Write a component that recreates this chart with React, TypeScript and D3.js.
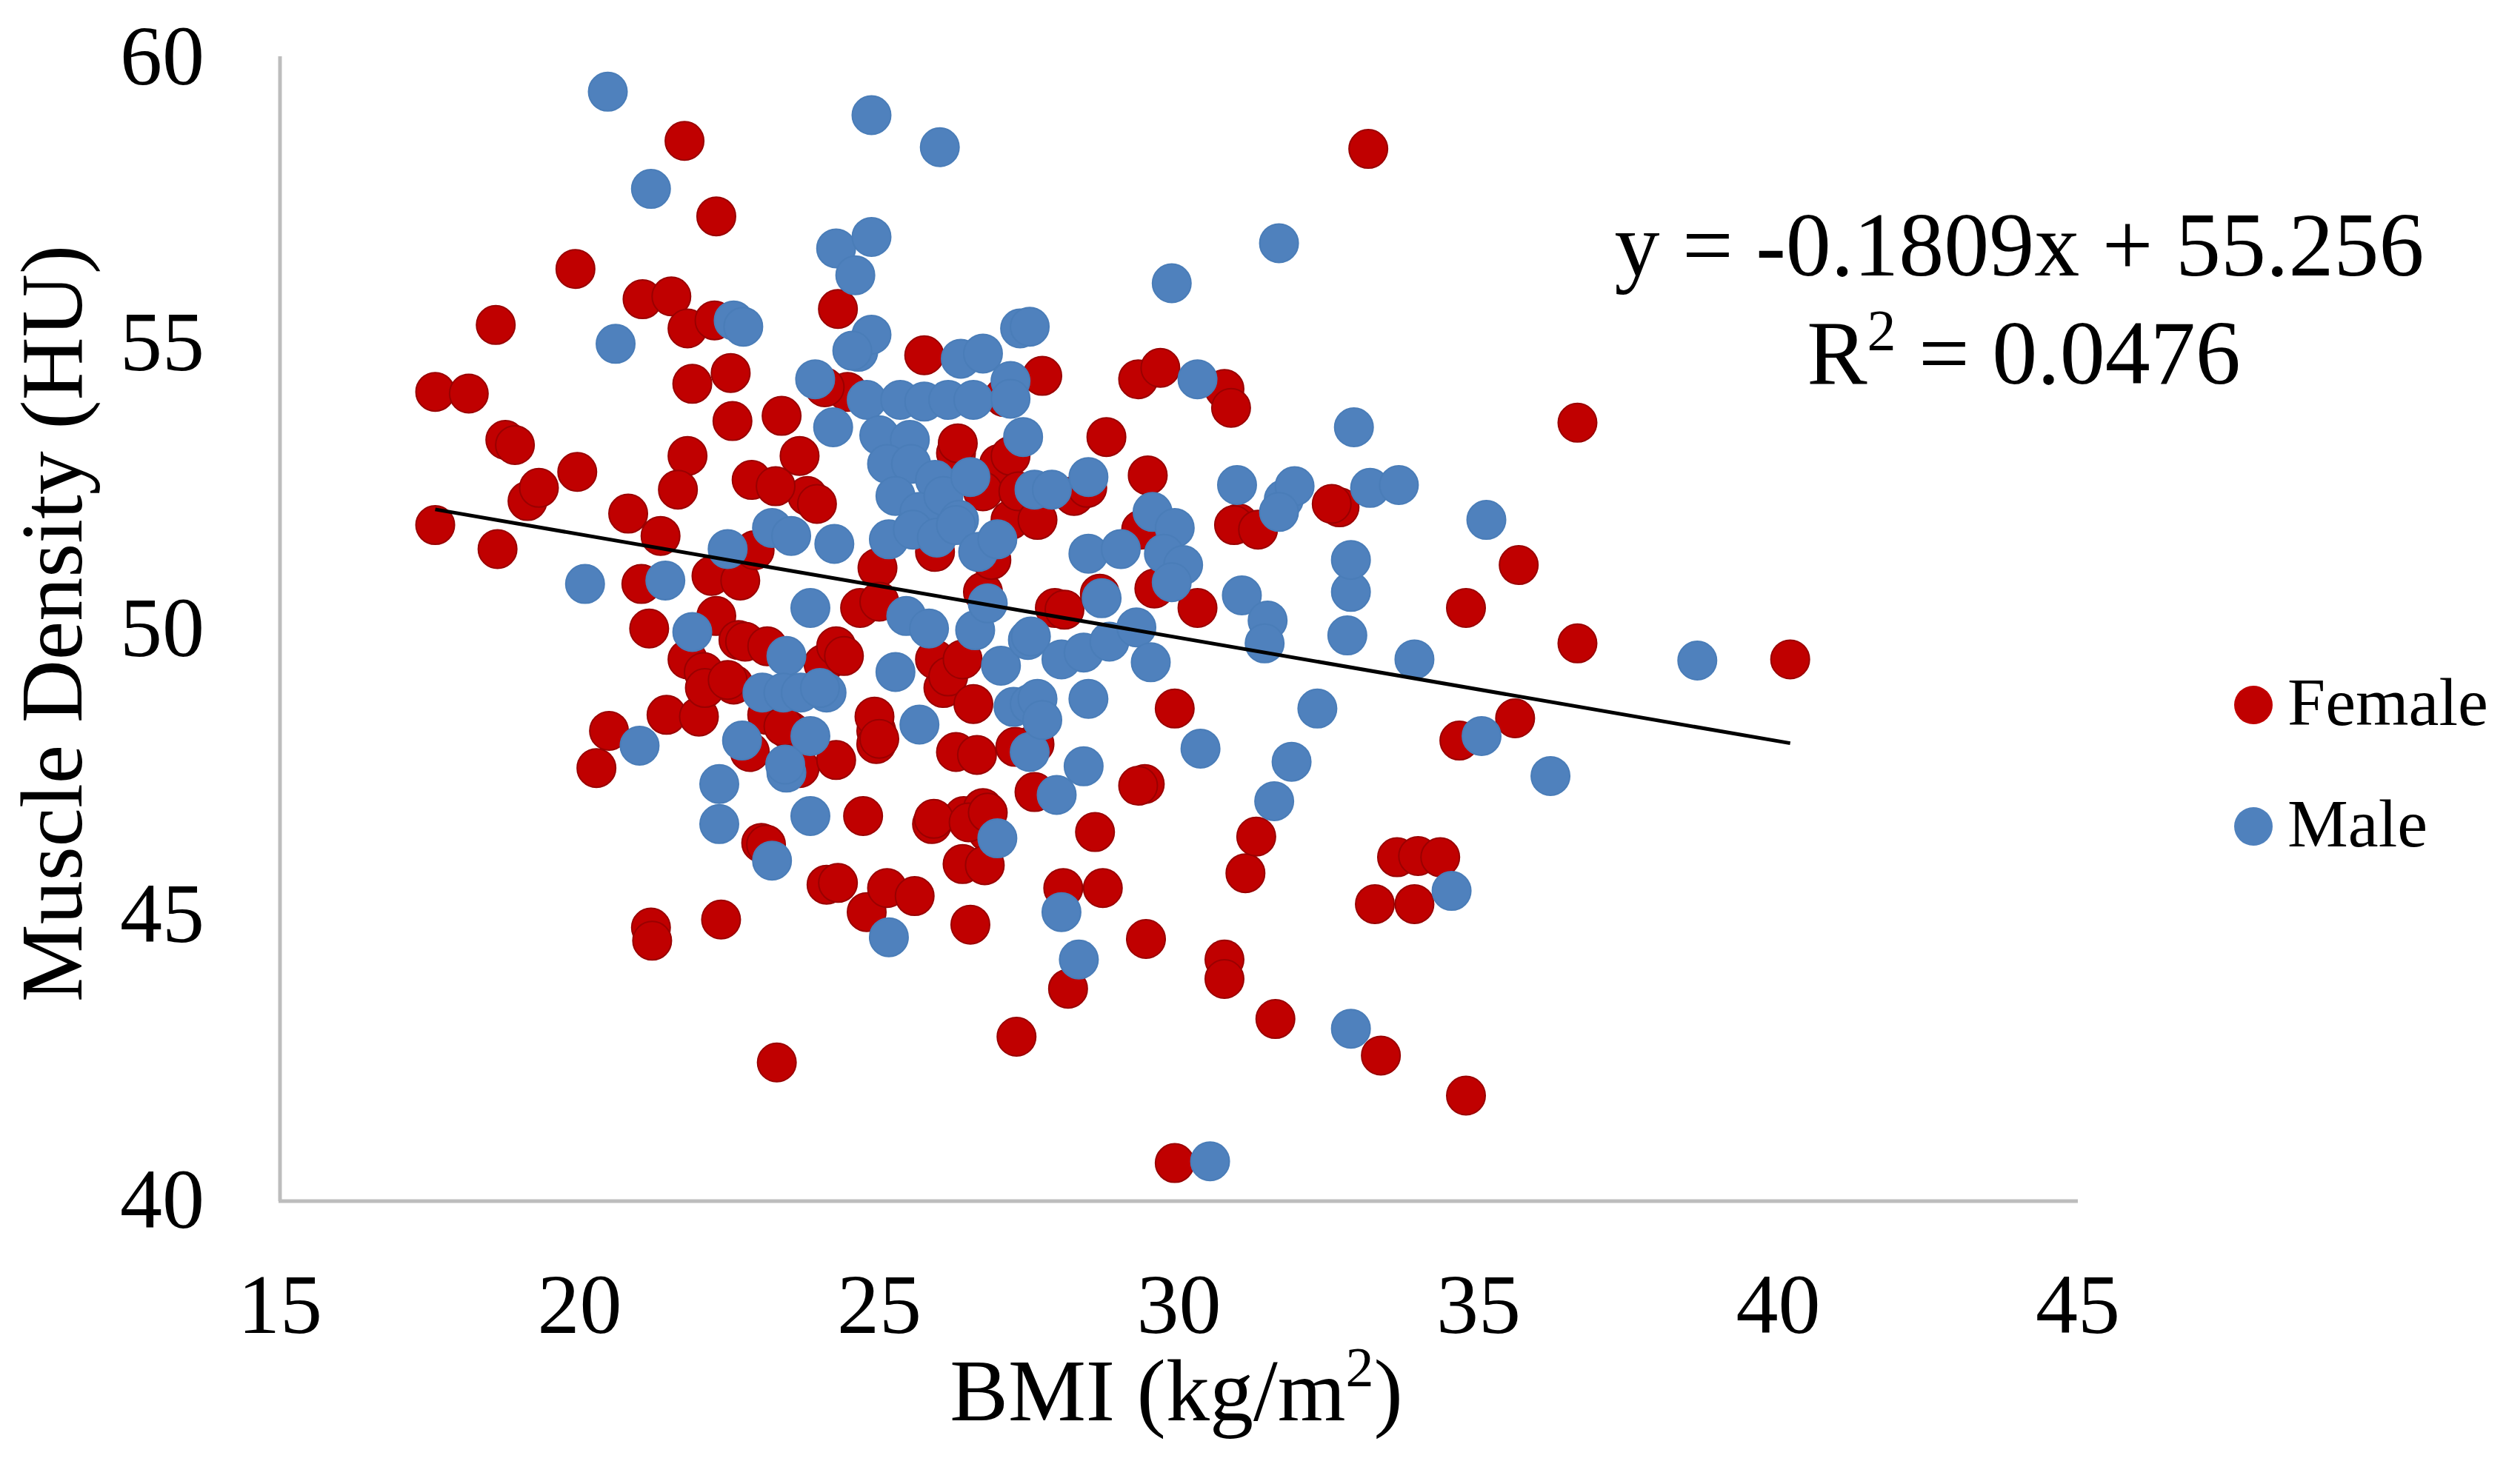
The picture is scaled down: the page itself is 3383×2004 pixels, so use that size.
import { useRef, useEffect } from "react";
import * as d3 from "d3";

// ── Data ───────────────────────────────────────────────────────────────────
const femaleBMI = [
  17.59, 18.15, 17.59, 18.6, 18.63, 18.76, 18.92, 19.13, 19.32, 19.96,
  19.93, 20.28, 20.49, 20.81, 21.03, 21.16, 21.05, 21.53, 21.75, 22.28,
  21.8, 22.25, 21.88, 21.8, 21.64, 21.35, 21.19, 21.21, 21.45, 21.8,
  22.07, 21.99, 22.2, 22.28, 22.55, 22.52, 22.65, 22.87, 22.68, 22.36,
  23.29, 23.03, 23.37, 23.13, 23.67, 23.8, 23.51, 23.67, 24.07, 24.12,
  24.31, 24.28, 24.47, 24.68, 24.73, 24.79, 24.95, 24.95, 25.13, 25.59,
  25.75, 25.88, 26.07, 26.39, 26.28, 26.28, 26.52, 26.41, 26.73, 26.81,
  26.73, 27.08, 27.0, 27.29, 27.19, 27.59, 27.59, 27.72, 28.07, 28.15,
  27.93, 28.25, 28.6, 28.73, 28.79, 29.32, 29.48, 29.43, 29.45, 29.69,
  29.59, 29.93, 29.93, 30.31, 30.76, 30.87, 30.76, 30.76, 31.0, 31.11,
  31.29, 31.61, 32.68, 33.16, 33.27, 33.37, 33.64, 33.93, 33.99, 34.36,
  34.79, 34.68, 34.79, 35.67, 35.61, 36.65, 36.65, 40.2,
  24.09, 26.31, 27.19, 23.27, 23.96, 26.73, 27.32, 22.92, 24.97, 25.93,
  26.87, 25.0, 22.76, 23.13, 24.28, 24.41, 25.93, 26.15, 26.39, 22.57,
  23.4, 26.57, 24.92, 25.0, 26.63, 27.27, 22.84, 25.91, 26.49, 26.81,
  23.11, 26.76, 24.31, 28.09, 28.68, 29.59, 29.32, 28.47, 27.64, 30.92,
  31.32, 29.37, 32.55, 22.09, 22.47,
];
const femaleHU = [
  54.13, 54.1, 51.8, 55.3, 51.38, 53.29, 53.2, 52.22, 52.45, 52.73,
  56.28, 47.55, 48.2, 52.0, 50.77, 49.99, 55.75, 55.8, 58.52, 57.2,
  55.24, 55.38, 54.27, 53.01, 52.42, 51.61, 44.76, 44.53, 48.48, 49.45,
  49.23, 48.45, 50.91, 50.21, 53.62, 54.46, 49.79, 52.59, 50.83, 44.9,
  42.4, 46.24, 53.71, 48.48, 53.01, 52.31, 48.2, 47.55, 49.37, 45.51,
  55.58, 47.69, 54.13, 50.35, 46.71, 45.03, 48.2, 47.97, 45.45, 45.31,
  54.77, 46.57, 48.95, 45.87, 47.83, 53.06, 44.81, 46.71, 46.85, 46.43,
  50.63, 54.04, 52.87, 42.85, 51.89, 47.97, 47.13, 54.41, 45.45, 43.69,
  50.35, 52.31, 46.43, 45.45, 53.34, 54.35, 52.67, 47.27, 44.56, 54.55,
  51.75, 40.64, 48.59, 50.35, 54.18, 53.85, 44.2, 43.86, 51.83, 45.71,
  46.35, 43.16, 52.11, 58.38, 45.17, 42.52, 45.99, 45.17, 46.01, 45.99,
  50.35, 48.03, 41.82, 51.1, 48.42, 53.59, 49.73, 49.45,
  54.21, 53.23, 53.01, 52.48, 52.17, 52.39, 52.39, 51.36, 51.05, 51.33,
  51.19, 50.46, 49.76, 49.68, 49.68, 49.51, 49.45, 49.15, 49.45, 49.01,
  48.28, 48.67, 48.45, 48.06, 47.78, 47.92, 47.83, 46.66, 46.6, 46.77,
  46.21, 45.85, 45.54, 50.32, 50.6, 50.69, 47.24, 52.45, 51.89, 51.8,
  51.72, 51.72, 52.17, 48.95, 49.09,
];

const maleBMI = [
  20.47, 21.19, 20.6, 20.09, 21.0, 21.43, 21.88, 22.33, 22.33, 22.47,
  22.57, 22.73, 22.71, 23.21, 23.21, 23.45, 23.45, 23.53, 23.85, 23.85,
  23.85, 23.93, 24.12, 24.23, 24.25, 24.28, 24.6, 24.87, 24.87, 24.65,
  24.87, 24.55, 24.79, 25.16, 25.27, 26.01, 25.67, 26.36, 26.73, 27.35,
  27.19, 25.35, 25.75, 26.15, 26.57, 27.19, 25.0, 25.51, 25.13, 25.53,
  25.93, 25.27, 25.67, 26.07, 26.33, 26.52, 27.4, 27.59, 25.16, 25.56,
  25.96, 26.28, 26.65, 26.97, 25.45, 25.83, 26.6, 26.81, 27.03, 27.48,
  23.05, 23.4, 23.69, 24.01, 27.24, 27.51, 27.51, 23.43, 26.97, 29.88,
  27.51, 30.31, 27.88, 28.49, 30.97, 31.75, 31.93, 29.56, 29.93, 29.75,
  30.07, 28.49, 29.03, 31.05, 28.71, 29.88, 31.48, 31.43, 27.53, 28.04,
  28.41, 28.84, 29.29, 29.53, 27.64, 28.49, 27.72, 32.31, 30.36, 28.41,
  27.96, 31.88, 31.59, 28.04, 28.33, 30.52, 32.87, 32.87, 32.87, 32.92,
  32.81, 33.19, 33.67, 33.93, 34.55, 35.05, 35.13, 36.2, 38.65, 31.67,
  31.67,
];
const maleHU = [
  59.38, 57.68, 54.97, 50.77, 47.94, 50.83, 49.93, 47.27, 46.57, 51.38,
  55.38, 55.27, 48.03, 45.93, 51.75, 49.51, 47.47, 51.61, 50.35, 48.11,
  46.71, 54.35, 48.87, 53.51, 51.47, 56.64, 56.17, 56.84, 58.97, 54.83,
  55.13, 54.85, 53.99, 44.59, 49.23, 58.41, 48.31, 54.71, 54.8, 55.24,
  54.32, 53.99, 53.96, 53.99, 53.99, 54.01, 53.37, 53.29, 52.87, 52.87,
  52.59, 52.31, 52.03, 52.31, 51.89, 52.64, 53.34, 52.42, 51.55, 51.72,
  51.58, 51.8, 51.33, 51.55, 50.21, 49.99, 49.96, 50.43, 49.34, 49.79,
  48.87, 48.87, 48.87, 48.95, 48.62, 48.67, 47.83, 47.61, 46.32, 56.03,
  55.27, 54.35, 52.42, 52.64, 52.5, 52.25, 52.48, 52.03, 51.75, 51.3,
  51.1, 51.3, 51.38, 50.57, 50.52, 50.8, 50.13, 49.73, 49.85, 49.45,
  49.57, 49.76, 50.01, 49.4, 48.76, 48.76, 48.39, 48.59, 47.89, 47.58,
  47.08, 47.66, 46.97, 45.03, 44.2, 40.67, 42.99, 50.63, 51.19, 53.51,
  49.87, 52.45, 52.5, 49.45, 45.4, 48.11, 51.89, 47.41, 49.43, 56.73,
  52.03,
];

const xTicks = [15, 20, 25, 30, 35, 40, 45];
const yTicks = [40, 45, 50, 55, 60];

const trendSlope = -0.1809;
const trendIntercept = 55.256;

const FEMALE = "#C00000";
const MALE = "#4F81BD";
const FONT = "'Liberation Serif', 'Times New Roman', serif";

export default function App() {
  const svgRef = useRef<SVGSVGElement>(null);
  const W = 3383;
  const H = 2004;

  useEffect(() => {
    if (!svgRef.current) return;
    const svg = d3.select(svgRef.current);
    svg.selectAll("*").remove();

    const x = d3.scaleLinear().domain([15, 45]).range([378, 2805]);
    const y = d3.scaleLinear().domain([40, 60]).range([1620, 76]);

    // ── Axis lines ──────────────────────────────────────────────
    svg.append("line")
      .attr("x1", x(15)).attr("x2", x(15))
      .attr("y1", y(60)).attr("y2", y(40) + 2)
      .attr("stroke", "#bdbdbd").attr("stroke-width", 5);
    svg.append("line")
      .attr("x1", x(15) - 2).attr("x2", x(45))
      .attr("y1", y(40) + 2).attr("y2", y(40) + 2)
      .attr("stroke", "#bdbdbd").attr("stroke-width", 5);

    // ── Tick labels ─────────────────────────────────────────────
    svg.append("g")
      .selectAll("text")
      .data(xTicks)
      .join("text")
      .attr("x", (d) => x(d))
      .attr("y", 1800)
      .attr("text-anchor", "middle")
      .attr("font-family", FONT)
      .attr("font-size", 114)
      .attr("fill", "#000")
      .text((d) => d);

    svg.append("g")
      .selectAll("text")
      .data(yTicks)
      .join("text")
      .attr("x", 276)
      .attr("y", (d) => y(d) + 38)
      .attr("text-anchor", "end")
      .attr("font-family", FONT)
      .attr("font-size", 114)
      .attr("fill", "#000")
      .text((d) => d);

    // ── Axis titles ─────────────────────────────────────────────
    const xTitle = svg.append("text")
      .attr("x", 1588)
      .attr("y", 1918)
      .attr("text-anchor", "middle")
      .attr("font-family", FONT)
      .attr("font-size", 118)
      .attr("fill", "#000");
    xTitle.append("tspan").text("BMI (kg/m");
    xTitle.append("tspan").attr("font-size", 76).attr("dy", -46).text("2");
    xTitle.append("tspan").attr("dy", 46).text(")");

    svg.append("text")
      .attr("transform", `translate(110,842) rotate(-90)`)
      .attr("text-anchor", "middle")
      .attr("font-family", FONT)
      .attr("font-size", 118)
      .attr("fill", "#000")
      .text("Muscle Density (HU)");

    // ── Points ──────────────────────────────────────────────────
    const r = 26;
    svg.append("g")
      .selectAll("circle")
      .data(d3.zip(femaleBMI, femaleHU))
      .join("circle")
      .attr("cx", (d) => x(d[0]))
      .attr("cy", (d) => y(d[1]))
      .attr("r", r)
      .attr("fill", FEMALE)
      .attr("stroke", "#9a0000")
      .attr("stroke-width", 2);

    svg.append("g")
      .selectAll("circle")
      .data(d3.zip(maleBMI, maleHU))
      .join("circle")
      .attr("cx", (d) => x(d[0]))
      .attr("cy", (d) => y(d[1]))
      .attr("r", r)
      .attr("fill", MALE)
      .attr("stroke", "#4a7db8")
      .attr("stroke-width", 2);

    // ── Linear trendline ────────────────────────────────────────
    const allBMI = femaleBMI.concat(maleBMI);
    const [xMin, xMax] = d3.extent(allBMI) as [number, number];
    const trend = d3.line<number>()
      .x((d) => x(d))
      .y((d) => y(trendSlope * d + trendIntercept));
    svg.append("path")
      .attr("d", trend([xMin, xMax]))
      .attr("stroke", "#000")
      .attr("stroke-width", 5)
      .attr("fill", "none");

    // ── Equation ────────────────────────────────────────────────
    svg.append("text")
      .attr("x", 2726)
      .attr("y", 372)
      .attr("text-anchor", "middle")
      .attr("font-family", FONT)
      .attr("font-size", 122)
      .attr("fill", "#000")
      .text(`y = ${trendSlope}x + ${trendIntercept}`);

    const r2 = svg.append("text")
      .attr("x", 2732)
      .attr("y", 518)
      .attr("text-anchor", "middle")
      .attr("font-family", FONT)
      .attr("font-size", 122)
      .attr("fill", "#000");
    r2.append("tspan").text("R");
    r2.append("tspan").attr("font-size", 78).attr("dy", -46).text("2");
    r2.append("tspan").attr("dy", 46).text(" = 0.0476");

    // ── Legend ──────────────────────────────────────────────────
    const legend = [
      { label: "Female", color: FEMALE, cy: 952 },
      { label: "Male", color: MALE, cy: 1116 },
    ];
    legend.forEach((item) => {
      svg.append("circle")
        .attr("cx", 3042).attr("cy", item.cy).attr("r", 26)
        .attr("fill", item.color);
      svg.append("text")
        .attr("x", 3088)
        .attr("y", item.cy + 27)
        .attr("font-family", FONT)
        .attr("font-size", 92)
        .attr("fill", "#000")
        .text(item.label);
    });
  }, []);

  return (
    <svg
      ref={svgRef}
      width={W}
      height={H}
      style={{ position: "absolute", left: 0, top: 0, background: "#fff" }}
    />
  );
}
